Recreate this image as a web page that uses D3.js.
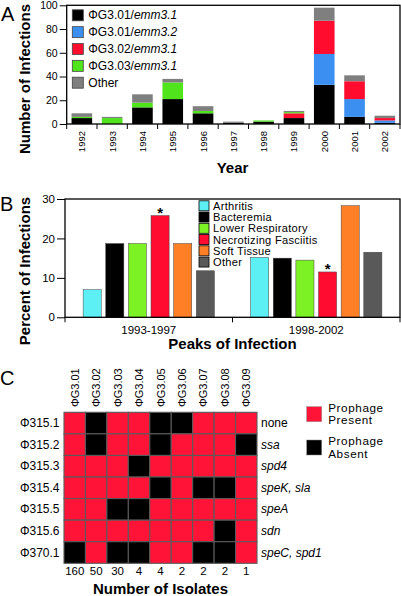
<!DOCTYPE html>
<html>
<head>
<meta charset="utf-8">
<script src="https://cdn.jsdelivr.net/npm/d3@7"></script>
<style>
  html, body { margin: 0; padding: 0; background: #fff; }
  svg { display: block; font-family: "Liberation Sans", Arial, Helvetica, sans-serif; }
</style>
</head>
<body>
<svg id="chart" width="401" height="596"></svg>
<script>
// ---------- Panel A data ----------
const years = ["1992","1993","1994","1995","1996","1997","1998","1999","2000","2001","2002"];
const seriesKeysA = ["g301_31","g301_32","g302_31","g303_31","other"];
const legendPrefixA = ["ΦG3.01/","ΦG3.01/","ΦG3.02/","ΦG3.03/","Other"];
const legendItalicA = ["emm3.1","emm3.2","emm3.1","emm3.1",""];
const g301_31 = [5, 0, 14, 21, 9, 1, 2, 5, 33, 6, 1];
const g301_32 = [0, 0, 0, 0, 0, 0, 0, 0, 26, 15, 2];
const g302_31 = [0, 0, 0, 0, 0, 0, 0, 4, 28, 15, 2];
const g303_31 = [1, 5, 4, 14, 2, 0, 1, 1, 0, 0, 0];
const otherA  = [3, 1, 7, 3, 4, 1, 0, 1, 11, 5, 2];
const yTicksA = [0, 20, 40, 60, 80, 100];
const colorsA = ["#000000", "#3b8ff0", "#ff0c2e", "#4fe41c", "#7f7f7f"];

// ---------- Panel B data ----------
const periods = ["1993-1997", "1998-2002"];
const diseases = ["Arthritis", "Bacteremia", "Lower Respiratory", "Necrotizing Fasciitis", "Soft Tissue", "Other"];
const pct1993_1997 = [7.0, 18.7, 18.7, 25.8, 18.7, 11.8];
const pct1998_2002 = [15.2, 15.0, 14.5, 11.5, 28.3, 16.5];
const starred = ["Necrotizing Fasciitis"];
const yTicksB = [0, 10, 20, 30];
const colorsB = ["#5cf0f4", "#000000", "#7cf124", "#ff0c30", "#ff7f26", "#595959"];

// ---------- Panel C data ----------
const phagesG3 = ["ΦG3.01","ΦG3.02","ΦG3.03","ΦG3.04","ΦG3.05","ΦG3.06","ΦG3.07","ΦG3.08","ΦG3.09"];
const prophages315 = ["Φ315.1","Φ315.2","Φ315.3","Φ315.4","Φ315.5","Φ315.6","Φ370.1"];
const toxinGenes = ["none","ssa","spd4","speK, sla","speA","sdn","speC, spd1"];
const geneItalic = [false, true, true, true, true, true, true];
const isolates = [160, 50, 30, 4, 4, 2, 2, 2, 1];
const presence = [
  [1,0,1,1,0,0,1,1,1],
  [1,0,1,1,0,1,1,1,0],
  [1,1,1,0,1,1,1,1,1],
  [1,1,1,1,0,1,0,0,1],
  [1,1,0,0,1,1,1,1,1],
  [1,1,1,1,1,1,1,0,1],
  [0,1,0,0,1,1,0,0,1]
];
const legendC = [["Prophage","Present"],["Prophage","Absent"]];
const colorPresent = "#ff1438", colorAbsent = "#000000";

const svg = d3.select("#chart");

// Panel letters
svg.append("text").attr("x", 1).attr("y", 20.5).attr("font-size", 20).text("A");
svg.append("text").attr("x", 0).attr("y", 211).attr("font-size", 20).text("B");
svg.append("text").attr("x", 0).attr("y", 385).attr("font-size", 20).text("C");

// ================= Panel A =================
(function () {
  const x0 = 66.7, x1 = 400, y0 = 124, y1 = 5.3;
  const x = d3.scaleBand().domain(years).range([x0, x1]).paddingInner(0.32).paddingOuter(0.16);
  const y = d3.scaleLinear().domain([0, 100]).range([y0, y1]);
  const table = years.map((yr, i) => ({
    year: yr, g301_31: g301_31[i], g301_32: g301_32[i], g302_31: g302_31[i], g303_31: g303_31[i], other: otherA[i]
  }));
  const stacked = d3.stack().keys(seriesKeysA)(table);
  const g = svg.append("g");
  g.selectAll("g.layer").data(stacked).join("g").attr("class", "layer")
    .attr("fill", (d, i) => colorsA[i])
    .selectAll("rect").data(d => d).join("rect")
    .attr("x", d => x(d.data.year))
    .attr("width", x.bandwidth())
    .attr("y", d => y(d[1]))
    .attr("height", d => Math.max(0, y(d[0]) - y(d[1])));

  // frame
  g.append("rect").attr("x", x0).attr("y", y1).attr("width", x1 - x0).attr("height", y0 - y1)
    .attr("fill", "none").attr("stroke", "#000").attr("stroke-width", 1.3);

  // y axis
  const ay = g.append("g").attr("transform", `translate(${x0},0)`)
    .call(d3.axisLeft(y).tickValues(yTicksA).tickSize(7).tickPadding(2));
  ay.select(".domain").remove();
  ay.selectAll("text").attr("font-size", 10.5).attr("font-family", "Liberation Sans, Arial, sans-serif").attr("fill", "#000");
  ay.selectAll("line").attr("stroke-width", 1);

  // x ticks at band boundaries
  const bounds = years.map(yr => x(yr) - x.step() * x.paddingInner() / 2).concat([x1]);
  g.selectAll("line.xt").data(bounds).join("line").attr("class", "xt")
    .attr("x1", d => d).attr("x2", d => d).attr("y1", y0).attr("y2", y0 + 5)
    .attr("stroke", "#000").attr("stroke-width", 1);
  g.selectAll("text.yr").data(years).join("text").attr("class", "yr")
    .attr("transform", d => `translate(${x(d) + x.bandwidth() / 2},131) rotate(-90)`)
    .attr("text-anchor", "end").attr("dominant-baseline", "central")
    .attr("font-size", 9.5).text(d => d);

  // axis titles
  svg.append("text").attr("transform", "translate(24,79) rotate(-90)")
    .attr("text-anchor", "middle").attr("dominant-baseline", "central")
    .attr("font-size", 15).attr("font-weight", "bold").text("Number of Infections");
  svg.append("text").attr("x", 232.5).attr("y", 167).attr("text-anchor", "middle")
    .attr("dominant-baseline", "central").attr("font-size", 15).attr("font-weight", "bold").text("Year");

  // legend
  const lg = g.append("g");
  const rows = lg.selectAll("g").data(seriesKeysA).join("g")
    .attr("transform", (d, i) => `translate(72.3,${15.3 + i * 16.85})`);
  rows.append("rect").attr("x", 0).attr("y", -5.5).attr("width", 11).attr("height", 11)
    .attr("fill", (d, i) => colorsA[i]).attr("stroke", "#444").attr("stroke-width", 0.8);
  const t = rows.append("text").attr("x", 16).attr("dominant-baseline", "central").attr("font-size", 12);
  t.append("tspan").text((d, i) => legendPrefixA[i]);
  t.append("tspan").attr("font-style", "italic").text((d, i) => legendItalicA[i]);
})();

// ================= Panel B =================
(function () {
  const x0 = 65, x1 = 400, y0 = 317.3, y1 = 199;
  const xg = d3.scaleBand().domain(periods).range([x0, x1]);
  const xi = d3.scaleBand().domain(diseases).range([0, xg.bandwidth()]).paddingInner(0.2).paddingOuter(0.8);
  const y = d3.scaleLinear().domain([0, 30]).range([y0, y1]);
  const color = d3.scaleOrdinal().domain(diseases).range(colorsB);
  const data = [pct1993_1997, pct1998_2002];
  const table = periods.map((p, gi) => ({ period: p, values: diseases.map((d, k) => ({ disease: d, value: data[gi][k] })) }));
  const g = svg.append("g");
  const groups = g.selectAll("g.grp").data(table).join("g").attr("class", "grp")
    .attr("transform", d => `translate(${xg(d.period)},0)`);
  groups.selectAll("rect").data(d => d.values).join("rect")
    .attr("x", d => xi(d.disease)).attr("width", xi.bandwidth())
    .attr("y", d => y(d.value)).attr("height", d => y0 - y(d.value))
    .attr("fill", d => color(d.disease)).attr("stroke", "#444").attr("stroke-width", 0.5);
  groups.selectAll("text.star").data(d => d.values.filter(v => starred.includes(v.disease))).join("text")
    .attr("class", "star")
    .attr("x", d => xi(d.disease) + xi.bandwidth() / 2).attr("y", d => y(d.value) + 2.5)
    .attr("text-anchor", "middle").attr("font-size", 15).attr("font-weight", "bold").text("*");

  // frame
  g.append("rect").attr("x", x0).attr("y", y1).attr("width", x1 - x0).attr("height", y0 - y1)
    .attr("fill", "none").attr("stroke", "#000").attr("stroke-width", 1.3);

  const ay = g.append("g").attr("transform", `translate(${x0},0)`)
    .call(d3.axisLeft(y).tickValues(yTicksB).tickSize(8).tickPadding(2));
  ay.select(".domain").remove();
  ay.selectAll("text").attr("font-size", 11.5).attr("font-family", "Liberation Sans, Arial, sans-serif").attr("fill", "#000");

  const bounds = periods.map(p => xg(p)).concat([x1]);
  g.selectAll("line.xt").data(bounds).join("line").attr("class", "xt")
    .attr("x1", d => d).attr("x2", d => d).attr("y1", y0).attr("y2", y0 + 5)
    .attr("stroke", "#000").attr("stroke-width", 1);
  g.selectAll("text.per").data(periods).join("text").attr("class", "per")
    .attr("x", d => xg(d) + xg.bandwidth() / 2).attr("y", 329.5)
    .attr("text-anchor", "middle").attr("dominant-baseline", "central")
    .attr("font-size", 11.5).text(d => d);

  svg.append("text").attr("transform", "translate(24,271) rotate(-90)")
    .attr("text-anchor", "middle").attr("dominant-baseline", "central")
    .attr("font-size", 15).attr("font-weight", "bold").text("Percent of Infections");
  svg.append("text").attr("x", 232.5).attr("y", 343.5).attr("text-anchor", "middle")
    .attr("dominant-baseline", "central").attr("font-size", 15).attr("font-weight", "bold").text("Peaks of Infection");

  // legend
  const rows = g.append("g").selectAll("g").data(diseases).join("g")
    .attr("transform", (d, i) => `translate(199,${205.8 + i * 11.25})`);
  rows.append("rect").attr("x", 0).attr("y", -5).attr("width", 10).attr("height", 10)
    .attr("fill", d => color(d)).attr("stroke", "#000").attr("stroke-width", 0.8);
  rows.append("text").attr("x", 14).attr("dominant-baseline", "central")
    .attr("font-size", 11.1).attr("letter-spacing", 0.28).text(d => d);
})();

// ================= Panel C =================
(function () {
  const x0 = 64, x1 = 257, y0 = 412.3, y1 = 563.3;
  const x = d3.scaleBand().domain(phagesG3).range([x0, x1]);
  const y = d3.scaleBand().domain(prophages315).range([y0, y1]);
  const cells = [];
  prophages315.forEach((r, i) => phagesG3.forEach((c, j) => cells.push({ row: r, col: c, v: presence[i][j] })));
  const g = svg.append("g");
  g.selectAll("rect.cell").data(cells).join("rect").attr("class", "cell")
    .attr("x", d => x(d.col)).attr("y", d => y(d.row))
    .attr("width", x.bandwidth()).attr("height", y.bandwidth())
    .attr("fill", d => d.v ? colorPresent : colorAbsent)
    .attr("stroke", "#5a5a5a").attr("stroke-width", 1.1);

  g.selectAll("text.col").data(phagesG3).join("text").attr("class", "col")
    .attr("transform", d => `translate(${x(d) + x.bandwidth() / 2},407) rotate(-90)`)
    .attr("dominant-baseline", "central").attr("font-size", 11).text(d => d);
  g.selectAll("text.row").data(prophages315).join("text").attr("class", "row")
    .attr("x", 59.5).attr("y", d => y(d) + y.bandwidth() / 2)
    .attr("text-anchor", "end").attr("dominant-baseline", "central").attr("font-size", 12).text(d => d);
  g.selectAll("text.gene").data(toxinGenes).join("text").attr("class", "gene")
    .attr("x", 261).attr("y", (d, i) => y(prophages315[i]) + y.bandwidth() / 2)
    .attr("dominant-baseline", "central").attr("font-size", 12)
    .attr("font-style", (d, i) => geneItalic[i] ? "italic" : "normal").text(d => d);
  g.selectAll("text.iso").data(isolates).join("text").attr("class", "iso")
    .attr("x", (d, i) => x(phagesG3[i]) + x.bandwidth() / 2).attr("y", 570.5)
    .attr("text-anchor", "middle").attr("dominant-baseline", "central").attr("font-size", 11.5).text(d => d);
  svg.append("text").attr("x", 160.5).attr("y", 588.5).attr("text-anchor", "middle")
    .attr("dominant-baseline", "central").attr("font-size", 15).attr("font-weight", "bold").text("Number of Isolates");

  // legend
  const lrows = g.append("g").selectAll("g").data(legendC).join("g")
    .attr("transform", (d, i) => `translate(306.7,${414.2 + i * 33.3})`);
  lrows.append("rect").attr("x", 0).attr("y", -7.5).attr("width", 15).attr("height", 15)
    .attr("fill", (d, i) => i === 0 ? colorPresent : colorAbsent).attr("stroke", "#888").attr("stroke-width", 0.5);
  const lt = lrows.append("text").attr("font-size", 11.7).attr("letter-spacing", 0.6);
  lt.append("tspan").attr("x", 21.5).attr("y", -7.1).attr("dominant-baseline", "central").text(d => d[0]);
  lt.append("tspan").attr("x", 21.5).attr("y", 5.6).attr("dominant-baseline", "central").text(d => d[1]);
})();
</script>
</body>
</html>
